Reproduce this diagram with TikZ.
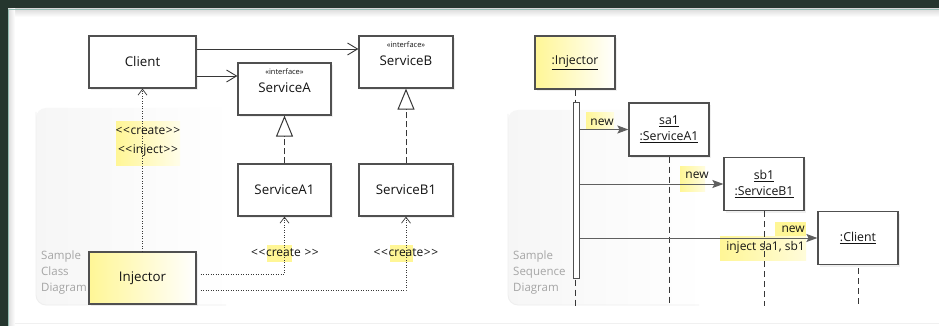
\documentclass[tikz,border=0pt]{standalone}
\usepackage{fontspec}
\setmainfont{Open Sans}
\usetikzlibrary{arrows.meta,shadows}
\definecolor{frame}{RGB}{37,54,46}
\definecolor{frameline}{RGB}{150,190,180}
\definecolor{edge}{RGB}{80,80,80}
\definecolor{ink}{RGB}{20,20,20}
\definecolor{hl}{RGB}{255,246,150}
\definecolor{note}{RGB}{165,165,165}
\definecolor{msgc}{RGB}{95,95,95}
% guillemet pairs typed as two separate angle brackets
\newcommand{\ltlt}{<\kern0.6pt<\kern0.6pt}
\newcommand{\gtgt}{\kern0.6pt>\kern0.6pt>}

\begin{document}
\begin{tikzpicture}[x=1pt,y=-1pt,
  box/.style={draw=edge, line width=1.2pt, fill=white, minimum width=#1,
    minimum height=52pt, inner sep=0pt, text=ink,
    font=\fontsize{13.3}{15}\selectfont,
    drop shadow={shadow xshift=2pt, shadow yshift=-2pt, opacity=0.12}},
  box/.default=93pt,
  ybox/.style={box=#1, left color=hl, right color=white},
  obox/.style={box=80pt, minimum height=53pt, align=center,
    font=\fontsize{12.3}{16}\selectfont},
  yobox/.style={obox, left color=hl, right color=white},
  stereo/.style={font=\fontsize{7.5}{8}\selectfont, text=ink, inner sep=0pt},
  cname/.style={font=\fontsize{13.3}{15}\selectfont, text=ink, inner sep=0pt},
  lbl/.style={font=\fontsize{12}{14}\selectfont, text=ink, inner sep=0pt},
  notetext/.style={font=\fontsize{11.5}{16}\selectfont, text=note, align=left,
    anchor=north west, inner sep=0pt},
  panelfill/.style={left color=gray!7, right color=white},
  paneledge/.style={draw=gray!13, line width=0.8pt, rounded corners=10pt},
  assoc/.style={draw=ink!85, line width=0.9pt,
    -{Straight Barb[length=10pt, width=12pt, line width=0.9pt]}},
  real/.style={draw=ink!85, line width=1pt, dash pattern=on 6pt off 3pt,
    -{Triangle[open, length=21pt, width=17pt, fill=white, line width=1pt]}},
  dep/.style={draw=ink!85, line width=0.8pt, dash pattern=on 0.9pt off 1.6pt,
    -{Straight Barb[length=6pt, width=9pt, line width=0.7pt]}},
  msg/.style={draw=msgc, line width=1pt,
    -{Stealth[length=11pt, width=8pt, inset=2pt]}},
  life/.style={draw=ink!85, line width=1pt, dash pattern=on 6pt off 4pt},
  act/.style={draw=edge, line width=1pt, fill=white, minimum width=6pt,
    minimum height=175pt, inner sep=0pt}
]
\useasboundingbox (0,0) rectangle (939,326);

% window frame
\fill[frame] (0,0) rectangle (939,326);
\fill[white] (8,9) rectangle (939,326);
\shade[top color=gray!28, bottom color=white] (8,9) rectangle (939,17);
\shade[left color=gray!28, right color=white] (8,9) rectangle (15,326);
\draw[frameline, line width=0.8pt] (8,326) -- (8,9) -- (939,9);
\draw[gray!12, line width=1pt] (15,323) -- (939,323);

% ---------------- class diagram ----------------
\shade[panelfill, rounded corners=10pt] (36,108) rectangle (232,305);
\draw[paneledge] (36,112) -- (36,305) -- (226,305);
\node[notetext] (clsnote) at (41,251) {Sample\\Class\\Diagram};

\shade[left color=hl, right color=hl!20!white] (116,122) rectangle (180,165);
\fill[hl] (267,245) rectangle (292,262);
\fill[hl] (390,245) rectangle (413,262);

\node[box=107pt] (client) at (142.5,62) {Client};
\node[box=93pt] (sA) at (284.5,89) {};
\node[stereo] (sAst) at ([yshift=-9pt]sA.north) {«interface»};
\node[cname] (sAn) at ([yshift=-25pt]sA.north) {ServiceA};
\node[box=94pt] (sB) at (406,62) {};
\node[stereo] (sBst) at ([yshift=-9pt]sB.north) {«interface»};
\node[cname] (sBn) at ([yshift=-25pt]sB.north) {ServiceB};
\node[box=93pt] (sA1) at (284.5,190) {ServiceA1};
\node[box=94pt] (sB1) at (406,190) {ServiceB1};
\node[ybox=107pt] (inj) at (142.5,278) {Injector};

\coordinate (sBin) at ([yshift=13pt]sB.west);
\draw[assoc] (client.east |- sBin) -- (sBin);
\coordinate (sAin) at ([yshift=13pt]sA.west);
\draw[assoc] (client.east |- sAin) -- (sAin);

\draw[real] (sA1.north) -- (sA.south);
\draw[real] (sB1.north) -- (sB.south);

\draw[dep] (inj.north) -- (client.south);
\draw[dep] ([xshift=4pt,yshift=4pt]inj.east) -| (sA1.south);
\draw[dep] ([xshift=4pt,yshift=-12pt]inj.east) -| (sB1.south);

\node[lbl] (crc) at (148,131) {\ltlt create\gtgt};
\node[lbl] (inc) at (148,151) {\ltlt inject\gtgt};
\node[lbl] (crA) at (285,253) {\ltlt create \gtgt};
\node[lbl] (crB) at (406,253) {\ltlt create\gtgt};

% ---------------- sequence diagram ----------------
\shade[panelfill, rounded corners=10pt] (508,110) rectangle (705,305);
\draw[paneledge] (508,114) -- (508,305) -- (699,305);
\node[notetext] (seqnote) at (513,251) {Sample\\Sequence\\Diagram};

\shade[left color=hl, right color=hl!30!white] (586,113) rectangle (614,130);
\shade[left color=hl, right color=hl!30!white] (680,166) rectangle (705,191);
\fill[hl] (775,222) rectangle (806,236);
\shade[left color=hl, right color=hl!35!white] (720,236) rectangle (806,260);

\coordinate (bot) at (0,306);
\node[yobox] (sInj) at (575,62.5) {\underline{:Injector}};
\node[obox] (sa1) at (669,129.5) {\underline{sa1}\\\underline{:ServiceA1}};
\node[obox] (sb1) at (764,184) {\underline{sb1}\\\underline{:ServiceB1}};
\node[obox] (cl) at (858,238) {\underline{:Client}};

\draw[life] (sInj.south) -- (sInj.south |- bot);
\draw[life] (sa1.south) -- (sa1.south |- bot);
\draw[life] (sb1.south) -- (sb1.south |- bot);
\draw[life] ([yshift=-3pt]cl.south) -- (cl.south |- bot);

\node[act] (act) at (576,190.5) {};

\draw[msg] (act.east |- sa1.west) -- (sa1.west);
\draw[msg] (act.east |- sb1.west) -- (sb1.west);
\draw[msg] (act.east |- cl.west) -- (cl.west);

\node[lbl] (new1) at (602,122) {new};
\node[lbl] (new2) at (697,175) {new};
\node[lbl, anchor=east] (new3) at (805,229) {new};
\node[lbl, anchor=east] (injm) at (805,247) {inject sa1, sb1};
\end{tikzpicture}
\end{document}
